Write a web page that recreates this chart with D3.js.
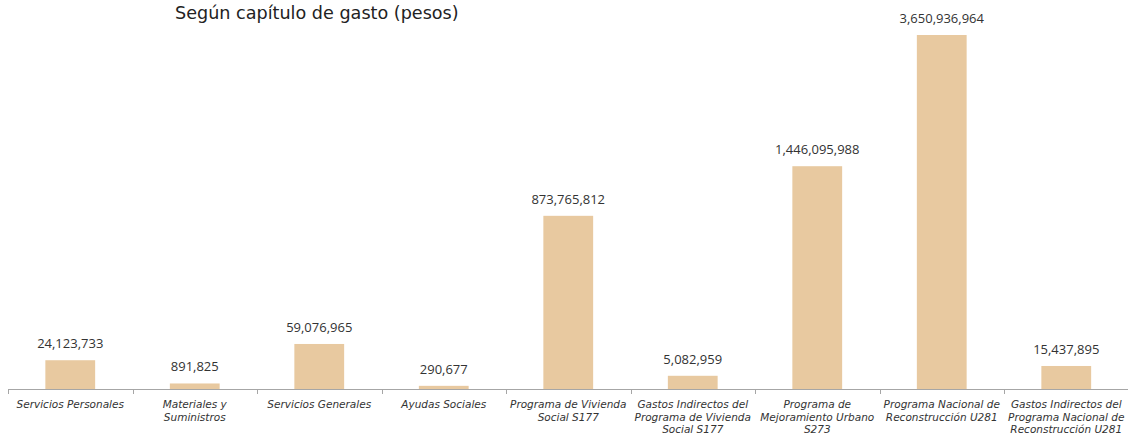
<!DOCTYPE html>
<html><head><meta charset="utf-8">
<script src="https://cdn.jsdelivr.net/npm/d3@7"></script>
<style>body{margin:0;background:#fff;} svg{display:block;}</style>
</head><body>
<svg id="c" width="1128" height="434"></svg>
<script>
const title = "Según capítulo de gasto (pesos)";
const categories = [
  "Servicios Personales",
  "Materiales y\nSuministros",
  "Servicios Generales",
  "Ayudas Sociales",
  "Programa de Vivienda\nSocial S177",
  "Gastos Indirectos del\nPrograma de Vivienda\nSocial S177",
  "Programa de\nMejoramiento Urbano\nS273",
  "Programa Nacional de\nReconstrucción U281",
  "Gastos Indirectos del\nPrograma Nacional de\nReconstrucción U281"
];
const values = [24123733, 891825, 59076965, 290677, 873765812, 5082959, 1446095988, 3650936964, 15437895];

const font = "'DejaVu Sans', sans-serif";
const font2 = "'Open Sans', sans-serif";
const svg = d3.select("#c");
const baseY = 389, topY = 35;
const x = d3.scaleBand().domain(categories).range([8, 1128.5]).paddingInner(0.6).paddingOuter(0.3);
const y = d3.scaleSqrt().domain([0, d3.max(values)]).range([baseY, topY]);

svg.append("text").attr("x", 175).attr("y", 19).attr("font-family", font)
  .attr("font-size", 17.6).attr("fill", "#222").text(title);

const data = categories.map((c, i) => ({c, v: values[i]}));
svg.selectAll("rect.bar").data(data).join("rect").attr("class", "bar")
  .attr("x", d => x(d.c)).attr("width", x.bandwidth())
  .attr("y", d => y(d.v)).attr("height", d => baseY - y(d.v))
  .attr("fill", "#e8c9a0");

svg.selectAll("text.val").data(data).join("text").attr("class", "val")
  .attr("x", d => x(d.c) + x.bandwidth() / 2).attr("y", d => y(d.v) - 12)
  .attr("text-anchor", "middle").attr("font-family", font2).attr("font-size", 13)
  .attr("fill", "#333").text(d => d3.format(",")(d.v));

// axis
const step = x.step();
const x0 = x.range()[0];
svg.append("line").attr("x1", x0).attr("x2", 1128).attr("y1", baseY + 0.5).attr("y2", baseY + 0.5)
  .attr("stroke", "#a6a6a6").attr("stroke-width", 1);
const bounds = d3.range(categories.length + 1).map(i => x0 + i * step);
svg.selectAll("line.tick").data(bounds).join("line").attr("class", "tick")
  .attr("x1", d => Math.round(d) + 0.5).attr("x2", d => Math.round(d) + 0.5)
  .attr("y1", baseY).attr("y2", baseY + 5).attr("stroke", "#a6a6a6");

const lab = svg.selectAll("text.cat").data(data).join("text").attr("class", "cat")
  .attr("text-anchor", "middle").attr("font-family", font).attr("font-size", 10.5)
  .attr("font-style", "italic").attr("fill", "#333");
lab.each(function(d) {
  const t = d3.select(this);
  d.c.split("\n").forEach((line, i) => {
    t.append("tspan").attr("x", x(d.c) + x.bandwidth() / 2).attr("y", 408 + i * 12.5).text(line);
  });
});
</script>
</body></html>
